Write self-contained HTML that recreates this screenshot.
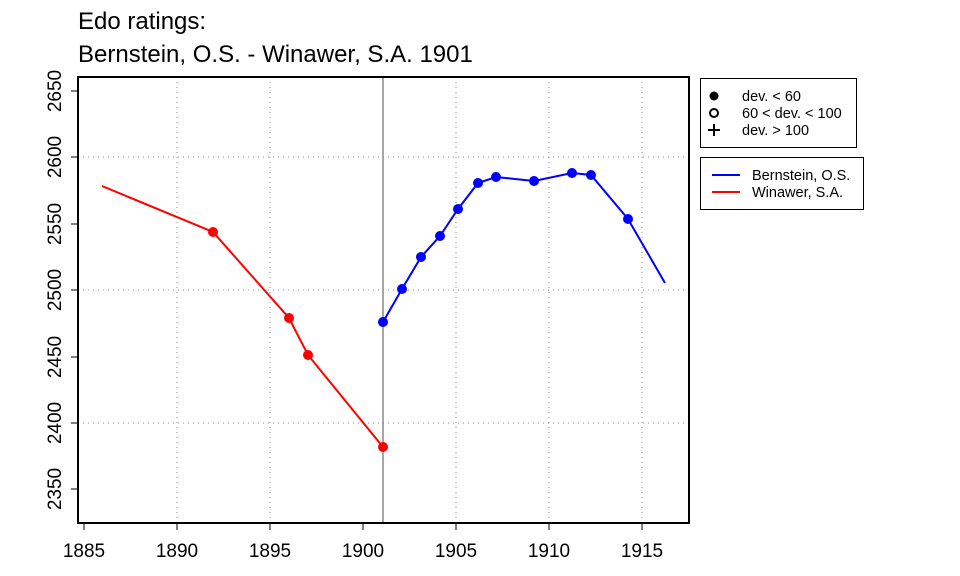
<!DOCTYPE html>
<html><head><style>body{margin:0;background:#fff}svg{display:block}text{font-family:"Liberation Sans",Arial,sans-serif}</style></head>
<body>
<svg width="960" height="576" xmlns="http://www.w3.org/2000/svg">
<text x="78" y="29" font-size="24">Edo ratings:</text>
<text x="78" y="62" font-size="24">Bernstein, O.S. - Winawer, S.A. 1901</text>
<g stroke="#888" stroke-dasharray="1,4" stroke-width="1">
<line x1="177" y1="77" x2="177" y2="523"/><line x1="270" y1="77" x2="270" y2="523"/>
<line x1="456" y1="77" x2="456" y2="523"/><line x1="549" y1="77" x2="549" y2="523"/><line x1="642" y1="77" x2="642" y2="523"/>
<line x1="78" y1="157" x2="689" y2="157"/><line x1="78" y1="290" x2="689" y2="290"/><line x1="78" y1="423" x2="689" y2="423"/>
</g>
<line x1="383" y1="77" x2="383" y2="523" stroke="#888" stroke-width="1.5"/>
<rect x="78" y="77" width="611" height="446" fill="none" stroke="#000" stroke-width="2"/>
<g stroke="#000" stroke-width="1">
<line x1="84" y1="523" x2="642" y2="523"/>
<line x1="84" y1="523" x2="84" y2="530"/><line x1="177" y1="523" x2="177" y2="530"/><line x1="270" y1="523" x2="270" y2="530"/><line x1="363" y1="523" x2="363" y2="530"/><line x1="456" y1="523" x2="456" y2="530"/><line x1="549" y1="523" x2="549" y2="530"/><line x1="642" y1="523" x2="642" y2="530"/>
<line x1="78" y1="91" x2="78" y2="489"/>
<line x1="71" y1="91" x2="78" y2="91"/><line x1="71" y1="157" x2="78" y2="157"/><line x1="71" y1="224" x2="78" y2="224"/><line x1="71" y1="290" x2="78" y2="290"/><line x1="71" y1="357" x2="78" y2="357"/><line x1="71" y1="423" x2="78" y2="423"/><line x1="71" y1="489" x2="78" y2="489"/>
</g>
<g font-size="19" text-anchor="middle">
<text x="84" y="557">1885</text><text x="177" y="557">1890</text><text x="270" y="557">1895</text><text x="363" y="557">1900</text><text x="456" y="557">1905</text><text x="549" y="557">1910</text><text x="642" y="557">1915</text>
<text transform="translate(61,91) rotate(-90)">2650</text><text transform="translate(61,157) rotate(-90)">2600</text><text transform="translate(61,224) rotate(-90)">2550</text><text transform="translate(61,290) rotate(-90)">2500</text><text transform="translate(61,357) rotate(-90)">2450</text><text transform="translate(61,423) rotate(-90)">2400</text><text transform="translate(61,489) rotate(-90)">2350</text>
</g>
<polyline fill="none" stroke="#f00" stroke-width="2" points="102,186 213,232 289,318 308,355 383,447"/>
<g fill="#f00"><circle cx="213" cy="232" r="5"/><circle cx="289" cy="318" r="5"/><circle cx="308" cy="355" r="5"/><circle cx="383" cy="447" r="5"/></g>
<polyline fill="none" stroke="#00f" stroke-width="2" points="383,322 402,289 421,257 440,236 458,209 478,183 496,177 534,181 572,173 591,175 628,219 665,283"/>
<g fill="#00f"><circle cx="383" cy="322" r="5"/><circle cx="402" cy="289" r="5"/><circle cx="421" cy="257" r="5"/><circle cx="440" cy="236" r="5"/><circle cx="458" cy="209" r="5"/><circle cx="478" cy="183" r="5"/><circle cx="496" cy="177" r="5"/><circle cx="534" cy="181" r="5"/><circle cx="572" cy="173" r="5"/><circle cx="591" cy="175" r="5"/><circle cx="628" cy="219" r="5"/></g>
<rect x="700.5" y="78.5" width="156" height="69" fill="#fff" stroke="#000"/>
<circle cx="714" cy="96" r="4.5" fill="#000"/>
<circle cx="714" cy="113" r="4" fill="none" stroke="#000" stroke-width="2"/>
<path d="M708 130h12M714 124v12" stroke="#000" stroke-width="2"/>
<g font-size="14.5"><text x="742" y="101">dev. &lt; 60</text><text x="742" y="118">60 &lt; dev. &lt; 100</text><text x="742" y="135">dev. &gt; 100</text></g>
<rect x="700.5" y="157.5" width="163" height="52" fill="#fff" stroke="#000"/>
<line x1="712" y1="175" x2="740" y2="175" stroke="#00f" stroke-width="2"/>
<line x1="712" y1="192" x2="740" y2="192" stroke="#f00" stroke-width="2"/>
<g font-size="14.5"><text x="752" y="180">Bernstein, O.S.</text><text x="752" y="197">Winawer, S.A.</text></g>
</svg>
</body></html>
